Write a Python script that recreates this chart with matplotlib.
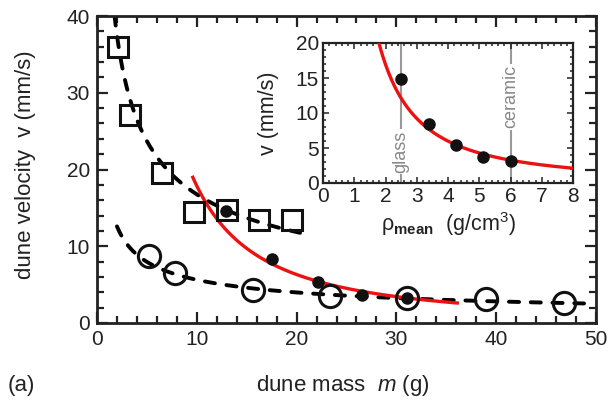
import numpy as np
import matplotlib
matplotlib.use("Agg")
import matplotlib.pyplot as plt
from matplotlib.ticker import MultipleLocator

plt.rcParams['font.family'] = ['Liberation Sans', 'DejaVu Sans']
plt.rcParams['mathtext.fontset'] = 'custom'
plt.rcParams['mathtext.rm'] = 'Liberation Sans'
plt.rcParams['mathtext.it'] = 'Liberation Sans:italic'
plt.rcParams['mathtext.bf'] = 'Liberation Sans:bold'

# main panel data: dune mass m (g) vs velocity v (mm/s)
sq_m = [2.1, 3.3, 6.5, 9.7, 13.0, 16.2, 19.5]
sq_v = [36.0, 27.1, 19.5, 14.4, 14.7, 13.4, 13.4]
circ_m = [5.2, 7.8, 15.6, 23.3, 31.1, 39.0, 46.8]
circ_v = [8.7, 6.5, 4.3, 3.5, 3.2, 3.1, 2.6]
dot_m = [12.9, 17.5, 22.1, 26.6, 31.1]
dot_v = [14.6, 8.4, 5.4, 3.6, 3.2]

# inset data: mean density (g/cm^3) vs velocity
rho = [2.5, 3.39, 4.27, 5.12, 6.0]
rho_v = [14.8, 8.5, 5.4, 3.7, 3.1]
marks = [2.5, 6.0]
mark_names = ['glass', 'ceramic']

# fitted power laws v = A * x^-b
sq_fit = (53.0, 0.5, 1.75, 21.4)     # A, b, x start, x end
circ_fit = (17.8, 0.5, 2.0, 48.8)
rho_fit = (47.9, 1.5)
m_per_rho = 5.18                     # dune mass per unit density
red_m_range = (9.6, 36.1)

fig = plt.figure(figsize=(6.08, 4.07), dpi=100)
ax = fig.add_axes([97 / 608, 1 - 323 / 407, 499 / 608, 307 / 407])

for A, b, x0, x1 in (sq_fit, circ_fit):
    x = np.linspace(x0, x1, 200)
    ax.plot(x, A * x ** -b, color='black', lw=2.8, ls=(0, (2.6, 3.0)),
            dash_capstyle='round', zorder=2)

xm = np.linspace(*red_m_range, 200)
ax.plot(xm, rho_fit[0] * (xm / m_per_rho) ** -rho_fit[1], color='#ee1111', lw=2.4, zorder=3)

ax.plot(sq_m, sq_v, 's', ms=15, mfc='none', mec='#111111', mew=2.2, zorder=4)
ax.plot(circ_m, circ_v, 'o', ms=16, mfc='none', mec='#111111', mew=2.2, zorder=4)
ax.plot(dot_m, dot_v, 'o', ms=8, color='#111111', zorder=5)

ax.set_xlim(0, 50)
ax.set_ylim(0, 40)
ax.xaxis.set_major_locator(MultipleLocator(10))
ax.xaxis.set_minor_locator(MultipleLocator(2))
ax.yaxis.set_major_locator(MultipleLocator(10))
ax.yaxis.set_minor_locator(MultipleLocator(2))
ax.tick_params(which='both', direction='in', top=True, right=True, width=1.6,
               labelsize=15, colors='#222222', pad=5)
ax.tick_params(which='major', length=8)
ax.tick_params(which='minor', length=5)
for s in ax.spines.values():
    s.set_linewidth(2)
    s.set_color('#222222')

fig.text(343 / 608, 1 - 385 / 407, 'dune mass  $\\mathit{m}$ (g)', ha='center', va='center',
         fontsize=16, color='#222222')
fig.text(8 / 608, 1 - 385 / 407, '(a)', ha='left', va='center', fontsize=16, color='#222222')
fig.text(26 / 608, 1 - 165 / 407, 'dune velocity  v (mm/s)', rotation=90, ha='center',
         va='center', fontsize=16, color='#222222')

# inset
ins = fig.add_axes([323 / 608, 1 - 183 / 407, 250 / 608, 140 / 407])
xr = np.linspace(1.79, 8.0, 200)
ins.plot(xr, rho_fit[0] * xr ** -rho_fit[1], color='#ee1111', lw=2.4, zorder=3)
ins.plot(rho, rho_v, 'o', ms=8, color='#111111', zorder=5)
for xv in marks:
    ins.axvline(xv, color='#999999', lw=1.5, zorder=1)
ins.text(marks[0], 4.5, mark_names[0], rotation=90, ha='center', va='center', fontsize=13,
         color='#888888', zorder=2, bbox=dict(fc='white', ec='none', pad=1))
ins.text(marks[1], 12.3, mark_names[1], rotation=90, ha='center', va='center', fontsize=13,
         color='#888888', zorder=2, bbox=dict(fc='white', ec='none', pad=1))

ins.set_xlim(0, 8)
ins.set_ylim(0, 20)
ins.xaxis.set_major_locator(MultipleLocator(1))
ins.xaxis.set_minor_locator(MultipleLocator(0.2))
ins.yaxis.set_major_locator(MultipleLocator(5))
ins.yaxis.set_minor_locator(MultipleLocator(1))
ins.tick_params(which='both', direction='in', top=True, right=True, width=1.1,
                labelsize=15, colors='#222222', pad=3)
ins.tick_params(which='major', length=4)
ins.tick_params(which='minor', length=2.5)
for s in ins.spines.values():
    s.set_linewidth(1.6)
    s.set_color('#222222')
ins.set_xlabel('$\\mathregular{\u03c1_{\\mathbf{mean}}}$  (g/cm$^{\\mathregular{3}}$)',
               fontsize=15.5, color='#222222', labelpad=3)
ins.set_ylabel('v (mm/s)', fontsize=15.5, color='#222222', labelpad=12)

fig.savefig('out.png', dpi=100)
